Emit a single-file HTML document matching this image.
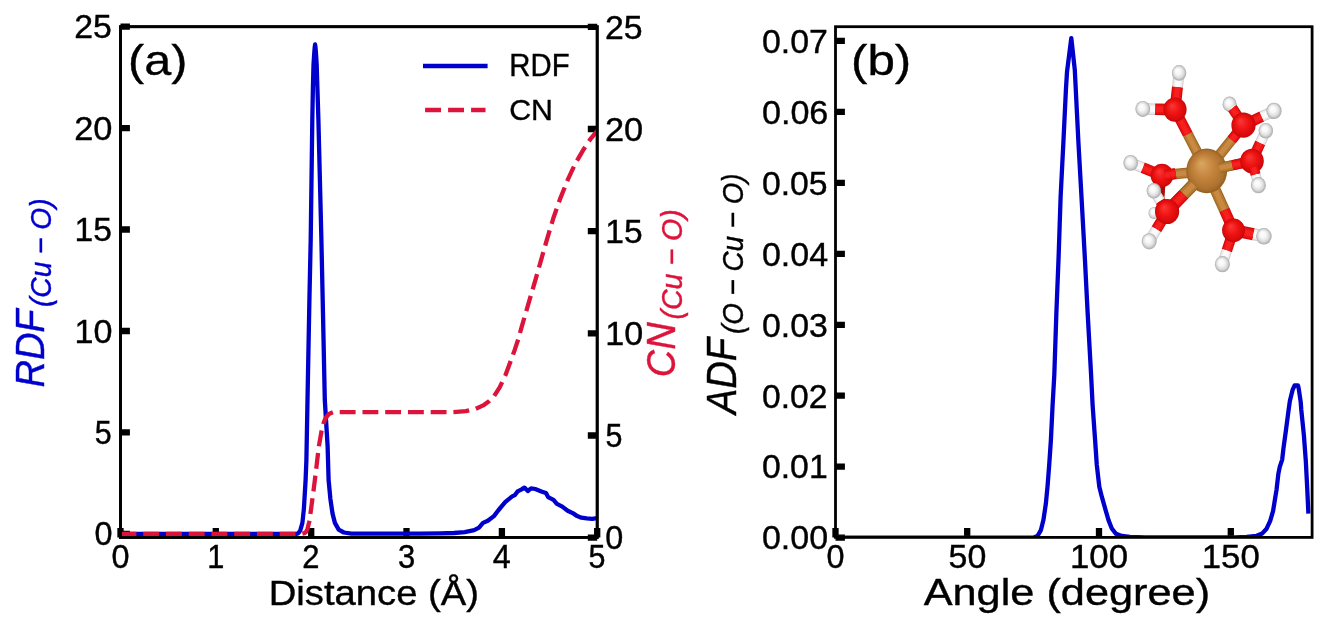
<!DOCTYPE html>
<html><head><meta charset="utf-8"><title>RDF / CN and ADF of Cu-O</title>
<style>html,body{margin:0;padding:0;background:#fff}svg{display:block;will-change:transform}text{font-family:"Liberation Sans",sans-serif}</style></head>
<body>
<svg width="1328" height="629" viewBox="0 0 1328 629">
<rect x="0" y="0" width="1328" height="629" fill="#fff"/>
<defs><clipPath id="ca"><rect x="120.5" y="26.7" width="476.70000000000005" height="510.7"/></clipPath><clipPath id="cb"><rect x="835.5" y="26.7" width="476.5999999999999" height="510.7"/></clipPath></defs>
<path d="M120.5,533.8h9.4 M120.5,432.4h9.4 M120.5,331.0h9.4 M120.5,229.5h9.4 M120.5,128.1h9.4 M120.5,26.7h9.4 M120.5,537.4v-9.4 M215.8,537.4v-9.4 M311.2,537.4v-9.4 M406.5,537.4v-9.4 M501.9,537.4v-9.4 M597.2,537.4v-9.4" stroke="#000" stroke-width="6.3" fill="none"/>
<g clip-path="url(#ca)"><path d="M120.5,533.8 L296.0,533.8 L297.6,533.6 L299.2,532.2 L300.5,529.6 L302.4,522.9 L303.9,508.6 L305.6,480.0 L306.4,460.0 L307.5,400.0 L309.4,300.0 L310.7,240.0 L312.3,120.0 L312.9,88.0 L313.5,65.0 L314.2,54.0 L314.7,47.5 L315.1,44.5 L315.5,47.5 L316.0,54.0 L316.7,65.0 L317.4,88.0 L318.4,120.0 L321.4,240.0 L322.7,300.0 L324.8,400.0 L327.6,446.0 L328.6,480.0 L330.4,499.0 L332.5,513.4 L334.9,522.9 L338.7,529.6 L343.9,532.5 L351.5,533.7 L420.0,533.6 L440.3,533.3 L453.9,533.0 L464.7,532.1 L474.2,530.1 L479.0,527.6 L483.0,522.9 L487.8,520.8 L493.9,516.1 L498.6,510.0 L505.4,501.9 L512.2,496.4 L514.9,495.1 L517.6,491.4 L521.7,489.4 L524.4,487.6 L527.8,491.0 L531.1,488.3 L535.2,489.0 L542.0,491.7 L546.0,493.0 L548.1,497.1 L553.5,499.8 L556.9,503.9 L562.3,506.6 L567.7,510.7 L573.2,513.4 L577.2,516.1 L581.3,517.7 L586.7,518.4 L592.1,518.8 L597.2,518.1" stroke="#0000cd" stroke-width="4.3" fill="none" stroke-linejoin="round"/></g>
<rect x="120.5" y="26.7" width="476.70000000000005" height="510.7" fill="none" stroke="#000" stroke-width="2.8"/>
<path d="M597.2,537.6h-9.4 M597.2,435.5h-9.4 M597.2,333.3h-9.4 M597.2,231.2h-9.4 M597.2,129.0h-9.4 M597.2,26.9h-9.4" stroke="#000" stroke-width="6.3" fill="none"/>
<g clip-path="url(#ca)"><path d="M120.5,533.8 L301.9,533.8 L304.3,533.2 L306.1,531.8 L307.5,528.8 L308.5,524.7 L309.6,520.5 L310.5,513.3 L312.4,499.0 L313.5,490.7 L315.4,475.7 L316.3,468.3 L318.0,453.5 L318.9,446.2 L321.6,430.6 L323.3,423.9 L325.5,418.4 L328.9,413.9 L333.3,412.2 L340.0,412.1 L452.5,412.1 L465.8,411.2 L475.7,408.8 L483.2,405.4 L489.0,401.3 L494.0,396.3 L499.8,387.2 L505.6,374.8 L510.5,361.5 L514.7,349.9 L518.0,340.0 L521.9,326.1 L528.6,303.2 L535.3,280.3 L541.0,260.3 L546.7,240.3 L553.4,218.0 L560.1,198.9 L567.7,179.9 L575.3,163.6 L583.0,150.3 L590.6,138.8 L597.2,130.8" stroke="#dc143c" stroke-width="4.3" fill="none" stroke-linejoin="round" stroke-dasharray="15.87 6.87"/></g>
<rect x="120.5" y="26.7" width="476.70000000000005" height="510.7" fill="none" stroke="#000" stroke-width="2.8"/>
<path d="M423,66H487.6" stroke="#0000cd" stroke-width="4.7" fill="none"/>
<path d="M425.1,110H485.5" stroke="#dc143c" stroke-width="4.7" fill="none" stroke-dasharray="15.9 7.1"/>
<path d="M835.5,537.6h9.4 M835.5,466.7h9.4 M835.5,395.7h9.4 M835.5,324.8h9.4 M835.5,253.8h9.4 M835.5,182.9h9.4 M835.5,111.9h9.4 M835.5,40.9h9.4 M835.5,537.4v-9.4 M967.2,537.4v-9.4 M1099.0,537.4v-9.4 M1230.8,537.4v-9.4" stroke="#000" stroke-width="6.3" fill="none"/>
<g clip-path="url(#cb)"><path d="M835.5,537.6 L1032.0,537.6 L1034.2,537.3 L1037.5,536.0 L1040.9,530.1 L1043.4,520.1 L1045.9,503.4 L1047.5,486.7 L1049.2,465.0 L1050.9,440.0 L1052.6,405.0 L1054.3,375.0 L1056.4,312.2 L1058.6,257.0 L1060.6,197.2 L1063.4,142.0 L1065.9,90.0 L1067.0,72.0 L1071.3,38.1 L1074.8,70.0 L1075.8,90.0 L1078.4,142.0 L1081.5,197.2 L1084.8,257.0 L1087.6,312.2 L1091.1,375.0 L1092.6,405.0 L1095.1,440.0 L1096.8,465.0 L1099.3,486.7 L1101.8,496.7 L1105.1,508.4 L1108.5,520.1 L1111.8,528.5 L1116.0,533.8 L1121.8,536.0 L1130.0,536.9 L1145.0,537.5 L1235.0,537.5 L1246.6,536.8 L1256.6,535.8 L1262.3,533.4 L1266.6,528.7 L1270.2,520.8 L1273.1,510.8 L1275.2,497.9 L1276.5,490.0 L1278.4,473.6 L1279.7,467.2 L1282.2,459.6 L1283.5,448.1 L1286.1,429.1 L1288.6,410.0 L1289.9,400.7 L1292.6,389.9 L1294.6,385.5 L1298.0,385.5 L1298.7,388.5 L1300.7,402.0 L1301.3,410.0 L1303.9,435.4 L1305.8,460.8 L1307.3,490.0 L1308.4,513.7" stroke="#0000cd" stroke-width="4.3" fill="none" stroke-linejoin="round"/></g>
<rect x="835.5" y="26.7" width="476.5999999999999" height="510.7" fill="none" stroke="#000" stroke-width="2.8"/>
<defs><radialGradient id="gO" cx="0.5" cy="0.5" r="0.5" fx="0.36" fy="0.32"><stop offset="0" stop-color="#fb3838"/><stop offset="0.55" stop-color="#ee1212"/><stop offset="0.88" stop-color="#d80a0a"/><stop offset="1" stop-color="#c00606"/></radialGradient><radialGradient id="gH" cx="0.5" cy="0.5" r="0.5" fx="0.38" fy="0.34"><stop offset="0" stop-color="#ffffff"/><stop offset="0.4" stop-color="#f6f6f6"/><stop offset="0.72" stop-color="#dcdcdc"/><stop offset="0.92" stop-color="#b8b8b8"/><stop offset="1" stop-color="#a4a4a4"/></radialGradient><radialGradient id="gC" cx="0.5" cy="0.5" r="0.5" fx="0.36" fy="0.32"><stop offset="0" stop-color="#dba664"/><stop offset="0.5" stop-color="#c4843c"/><stop offset="0.85" stop-color="#ae7230"/><stop offset="1" stop-color="#94601f"/></radialGradient></defs>
<g fill="none">
<ellipse cx="1154.0" cy="213.0" rx="5.5" ry="6.1" fill="url(#gH)"/>
<ellipse cx="1229.6" cy="104.2" rx="7" ry="7.6" fill="url(#gH)"/>
<path d="M1243.5,125.2L1232.2,107.9" stroke="#cf0a0a" stroke-width="10.5"/><path d="M1243.5,125.2L1232.2,107.9" stroke="#ee1212" stroke-width="8.4"/><path d="M1243.5,125.2L1232.2,107.9" stroke="#f62020" stroke-width="4.7"/>
<path d="M1232.2,107.9L1231.8,107.4" stroke="#cfcfcf" stroke-width="10.5"/><path d="M1232.2,107.9L1231.8,107.4" stroke="#efefef" stroke-width="8.4"/><path d="M1232.2,107.9L1231.8,107.4" stroke="#fbfbfb" stroke-width="4.7"/>
<path d="M1206.7,170.9L1187.7,134.1" stroke="#9a6622" stroke-width="10.6"/><path d="M1206.7,170.9L1187.7,134.1" stroke="#b87a32" stroke-width="8.5"/><path d="M1206.7,170.9L1187.7,134.1" stroke="#c88a42" stroke-width="4.8"/>
<path d="M1187.7,134.1L1175.0,109.6" stroke="#cf0a0a" stroke-width="10.6"/><path d="M1187.7,134.1L1175.0,109.6" stroke="#ee1212" stroke-width="8.5"/><path d="M1187.7,134.1L1175.0,109.6" stroke="#f62020" stroke-width="4.8"/>
<path d="M1206.7,170.9L1231.7,139.8" stroke="#9a6622" stroke-width="10.6"/><path d="M1206.7,170.9L1231.7,139.8" stroke="#b87a32" stroke-width="8.5"/><path d="M1206.7,170.9L1231.7,139.8" stroke="#c88a42" stroke-width="4.8"/>
<path d="M1231.7,139.8L1243.5,125.2" stroke="#cf0a0a" stroke-width="10.6"/><path d="M1231.7,139.8L1243.5,125.2" stroke="#ee1212" stroke-width="8.5"/><path d="M1231.7,139.8L1243.5,125.2" stroke="#f62020" stroke-width="4.8"/>
<path d="M1206.7,170.9L1232.5,165.3" stroke="#9a6622" stroke-width="10.2"/><path d="M1206.7,170.9L1232.5,165.3" stroke="#b87a32" stroke-width="8.2"/><path d="M1206.7,170.9L1232.5,165.3" stroke="#c88a42" stroke-width="4.6"/>
<path d="M1232.5,165.3L1252.0,161.0" stroke="#cf0a0a" stroke-width="10.2"/><path d="M1232.5,165.3L1252.0,161.0" stroke="#ee1212" stroke-width="8.2"/><path d="M1232.5,165.3L1252.0,161.0" stroke="#f62020" stroke-width="4.6"/>
<path d="M1206.7,170.9L1175.4,174.1" stroke="#9a6622" stroke-width="10.6"/><path d="M1206.7,170.9L1175.4,174.1" stroke="#b87a32" stroke-width="8.5"/><path d="M1206.7,170.9L1175.4,174.1" stroke="#c88a42" stroke-width="4.8"/>
<path d="M1175.4,174.1L1162.0,175.5" stroke="#cf0a0a" stroke-width="10.6"/><path d="M1175.4,174.1L1162.0,175.5" stroke="#ee1212" stroke-width="8.5"/><path d="M1175.4,174.1L1162.0,175.5" stroke="#f62020" stroke-width="4.8"/>
<path d="M1206.7,170.9L1183.7,194.4" stroke="#9a6622" stroke-width="12"/><path d="M1206.7,170.9L1183.7,194.4" stroke="#b87a32" stroke-width="9.6"/><path d="M1206.7,170.9L1183.7,194.4" stroke="#c88a42" stroke-width="5.4"/>
<path d="M1183.7,194.4L1167.1,211.5" stroke="#cf0a0a" stroke-width="12"/><path d="M1183.7,194.4L1167.1,211.5" stroke="#ee1212" stroke-width="9.6"/><path d="M1183.7,194.4L1167.1,211.5" stroke="#f62020" stroke-width="5.4"/>
<path d="M1206.7,170.9L1224.4,210.1" stroke="#9a6622" stroke-width="11"/><path d="M1206.7,170.9L1224.4,210.1" stroke="#b87a32" stroke-width="8.8"/><path d="M1206.7,170.9L1224.4,210.1" stroke="#c88a42" stroke-width="5.0"/>
<path d="M1224.4,210.1L1233.5,230.3" stroke="#cf0a0a" stroke-width="11"/><path d="M1224.4,210.1L1233.5,230.3" stroke="#ee1212" stroke-width="8.8"/><path d="M1224.4,210.1L1233.5,230.3" stroke="#f62020" stroke-width="5.0"/>
<ellipse cx="1206.7" cy="170.9" rx="20.4" ry="22.3" fill="url(#gC)"/>
<path d="M1219.4,168.1L1232.4,165.3" stroke="#9a6622" stroke-width="10.2"/><path d="M1219.4,168.1L1232.4,165.3" stroke="#b87a32" stroke-width="8.2"/><path d="M1219.4,168.1L1232.4,165.3" stroke="#c88a42" stroke-width="4.6"/>
<path d="M1232.4,165.3L1252.0,161.0" stroke="#cf0a0a" stroke-width="10.2"/><path d="M1232.4,165.3L1252.0,161.0" stroke="#ee1212" stroke-width="8.2"/><path d="M1232.4,165.3L1252.0,161.0" stroke="#f62020" stroke-width="4.6"/>
<path d="M1193.6,184.3L1183.8,194.4" stroke="#9a6622" stroke-width="12"/><path d="M1193.6,184.3L1183.8,194.4" stroke="#b87a32" stroke-width="9.6"/><path d="M1193.6,184.3L1183.8,194.4" stroke="#c88a42" stroke-width="5.4"/>
<path d="M1183.8,194.4L1167.1,211.5" stroke="#cf0a0a" stroke-width="12"/><path d="M1183.8,194.4L1167.1,211.5" stroke="#ee1212" stroke-width="9.6"/><path d="M1183.8,194.4L1167.1,211.5" stroke="#f62020" stroke-width="5.4"/>
<path d="M1175.0,109.6L1177.5,86.8" stroke="#cf0a0a" stroke-width="11"/><path d="M1175.0,109.6L1177.5,86.8" stroke="#ee1212" stroke-width="8.8"/><path d="M1175.0,109.6L1177.5,86.8" stroke="#f62020" stroke-width="5.0"/>
<path d="M1177.5,86.8L1179.1,72.9" stroke="#cfcfcf" stroke-width="11"/><path d="M1177.5,86.8L1179.1,72.9" stroke="#efefef" stroke-width="8.8"/><path d="M1177.5,86.8L1179.1,72.9" stroke="#fbfbfb" stroke-width="5.0"/>
<path d="M1175.0,109.6L1155.0,109.2" stroke="#cf0a0a" stroke-width="11.6"/><path d="M1175.0,109.6L1155.0,109.2" stroke="#ee1212" stroke-width="9.3"/><path d="M1175.0,109.6L1155.0,109.2" stroke="#f62020" stroke-width="5.2"/>
<path d="M1155.0,109.2L1142.8,108.9" stroke="#cfcfcf" stroke-width="11.6"/><path d="M1155.0,109.2L1142.8,108.9" stroke="#efefef" stroke-width="9.3"/><path d="M1155.0,109.2L1142.8,108.9" stroke="#fbfbfb" stroke-width="5.2"/>
<path d="M1243.5,125.2L1261.8,116.6" stroke="#cf0a0a" stroke-width="11"/><path d="M1243.5,125.2L1261.8,116.6" stroke="#ee1212" stroke-width="8.8"/><path d="M1243.5,125.2L1261.8,116.6" stroke="#f62020" stroke-width="5.0"/>
<path d="M1261.8,116.6L1274.0,110.9" stroke="#cfcfcf" stroke-width="11"/><path d="M1261.8,116.6L1274.0,110.9" stroke="#efefef" stroke-width="8.8"/><path d="M1261.8,116.6L1274.0,110.9" stroke="#fbfbfb" stroke-width="5.0"/>
<path d="M1252.0,161.0L1260.3,142.8" stroke="#cf0a0a" stroke-width="10.8"/><path d="M1252.0,161.0L1260.3,142.8" stroke="#ee1212" stroke-width="8.6"/><path d="M1252.0,161.0L1260.3,142.8" stroke="#f62020" stroke-width="4.9"/>
<path d="M1260.3,142.8L1265.8,130.7" stroke="#cfcfcf" stroke-width="10.8"/><path d="M1260.3,142.8L1265.8,130.7" stroke="#efefef" stroke-width="8.6"/><path d="M1260.3,142.8L1265.8,130.7" stroke="#fbfbfb" stroke-width="4.9"/>
<path d="M1162.0,175.5L1142.6,167.7" stroke="#cf0a0a" stroke-width="11"/><path d="M1162.0,175.5L1142.6,167.7" stroke="#ee1212" stroke-width="8.8"/><path d="M1162.0,175.5L1142.6,167.7" stroke="#f62020" stroke-width="5.0"/>
<path d="M1142.6,167.7L1130.7,162.9" stroke="#cfcfcf" stroke-width="11"/><path d="M1142.6,167.7L1130.7,162.9" stroke="#efefef" stroke-width="8.8"/><path d="M1142.6,167.7L1130.7,162.9" stroke="#fbfbfb" stroke-width="5.0"/>
<path d="M1167.1,211.5L1156.4,229.4" stroke="#cf0a0a" stroke-width="11"/><path d="M1167.1,211.5L1156.4,229.4" stroke="#ee1212" stroke-width="8.8"/><path d="M1167.1,211.5L1156.4,229.4" stroke="#f62020" stroke-width="5.0"/>
<path d="M1156.4,229.4L1149.2,241.3" stroke="#cfcfcf" stroke-width="11"/><path d="M1156.4,229.4L1149.2,241.3" stroke="#efefef" stroke-width="8.8"/><path d="M1156.4,229.4L1149.2,241.3" stroke="#fbfbfb" stroke-width="5.0"/>
<path d="M1233.5,230.3L1253.6,234.3" stroke="#cf0a0a" stroke-width="12.2"/><path d="M1233.5,230.3L1253.6,234.3" stroke="#ee1212" stroke-width="9.8"/><path d="M1233.5,230.3L1253.6,234.3" stroke="#f62020" stroke-width="5.5"/>
<path d="M1253.6,234.3L1263.9,236.3" stroke="#cfcfcf" stroke-width="12.2"/><path d="M1253.6,234.3L1263.9,236.3" stroke="#efefef" stroke-width="9.8"/><path d="M1253.6,234.3L1263.9,236.3" stroke="#fbfbfb" stroke-width="5.5"/>
<path d="M1233.5,230.3L1226.8,250.6" stroke="#cf0a0a" stroke-width="10.6"/><path d="M1233.5,230.3L1226.8,250.6" stroke="#ee1212" stroke-width="8.5"/><path d="M1233.5,230.3L1226.8,250.6" stroke="#f62020" stroke-width="4.8"/>
<path d="M1226.8,250.6L1222.4,264.2" stroke="#cfcfcf" stroke-width="10.6"/><path d="M1226.8,250.6L1222.4,264.2" stroke="#efefef" stroke-width="8.5"/><path d="M1226.8,250.6L1222.4,264.2" stroke="#fbfbfb" stroke-width="4.8"/>
<path d="M1162.5,183L1161,204" stroke="#a80c0c" stroke-width="6"/>
<ellipse cx="1175.0" cy="109.6" rx="11.6" ry="12.1" fill="url(#gO)"/>
<ellipse cx="1243.5" cy="125.2" rx="12.1" ry="12.6" fill="url(#gO)"/>
<ellipse cx="1162.0" cy="175.5" rx="11.3" ry="11.8" fill="url(#gO)"/>
<ellipse cx="1233.5" cy="230.3" rx="11.4" ry="11.9" fill="url(#gO)"/>
<path d="M1165.0,175.3L1170.3,174.4" stroke="#cf0a0a" stroke-width="10.8"/><path d="M1165.0,175.3L1170.3,174.4" stroke="#ee1212" stroke-width="8.6"/><path d="M1165.0,175.3L1170.3,174.4" stroke="#f62020" stroke-width="4.9"/>
<path d="M1170.3,174.4L1175.6,173.4" stroke="#cf0a0a" stroke-width="10.8"/><path d="M1170.3,174.4L1175.6,173.4" stroke="#ee1212" stroke-width="8.6"/><path d="M1170.3,174.4L1175.6,173.4" stroke="#f62020" stroke-width="4.9"/>
<path d="M1153.8,190.8L1160.4,201.2" stroke="#cfcfcf" stroke-width="10.5"/><path d="M1153.8,190.8L1160.4,201.2" stroke="#efefef" stroke-width="8.4"/><path d="M1153.8,190.8L1160.4,201.2" stroke="#fbfbfb" stroke-width="4.7"/>
<path d="M1160.4,201.2L1167.1,211.5" stroke="#cf0a0a" stroke-width="10.5"/><path d="M1160.4,201.2L1167.1,211.5" stroke="#ee1212" stroke-width="8.4"/><path d="M1160.4,201.2L1167.1,211.5" stroke="#f62020" stroke-width="4.7"/>
<ellipse cx="1167.1" cy="211.5" rx="12.1" ry="12.6" fill="url(#gO)"/>
<ellipse cx="1252.0" cy="161.0" rx="11.8" ry="12.3" fill="url(#gO)"/>
<ellipse cx="1179.1" cy="72.9" rx="7.2" ry="7.8" fill="url(#gH)"/>
<ellipse cx="1142.8" cy="108.9" rx="7.4" ry="8.0" fill="url(#gH)"/>
<ellipse cx="1274.0" cy="110.9" rx="7.6" ry="8.2" fill="url(#gH)"/>
<ellipse cx="1130.7" cy="162.9" rx="7.3" ry="7.9" fill="url(#gH)"/>
<ellipse cx="1149.2" cy="241.3" rx="7.5" ry="8.1" fill="url(#gH)"/>
<ellipse cx="1263.9" cy="236.3" rx="7.7" ry="8.3" fill="url(#gH)"/>
<ellipse cx="1222.4" cy="264.2" rx="7.5" ry="8.1" fill="url(#gH)"/>
<path d="M1253.6,167.1L1255.6,174.7" stroke="#cf0a0a" stroke-width="10"/><path d="M1253.6,167.1L1255.6,174.7" stroke="#ee1212" stroke-width="8.0"/><path d="M1253.6,167.1L1255.6,174.7" stroke="#f62020" stroke-width="4.5"/>
<path d="M1255.6,174.7L1258.4,185.2" stroke="#cfcfcf" stroke-width="10"/><path d="M1255.6,174.7L1258.4,185.2" stroke="#efefef" stroke-width="8.0"/><path d="M1255.6,174.7L1258.4,185.2" stroke="#fbfbfb" stroke-width="4.5"/>
<ellipse cx="1258.4" cy="185.2" rx="7.5" ry="8.1" fill="url(#gH)"/>
<ellipse cx="1265.8" cy="130.7" rx="7.2" ry="7.8" fill="url(#gH)"/>
<ellipse cx="1153.8" cy="190.8" rx="7.2" ry="7.8" fill="url(#gH)"/>
</g>
<text transform="matrix(0.3236,0,0,0.3304,94.40,545.41)" font-size="100" fill="#000" stroke="#000" stroke-width="1.22" xml:space="preserve">0</text>
<text transform="matrix(0.3236,0,0,0.3304,605.18,549.41)" font-size="100" fill="#000" stroke="#000" stroke-width="1.22" xml:space="preserve">0</text>
<text transform="matrix(0.3045,0,0,0.3276,94.83,444.00)" font-size="100" fill="#000" stroke="#000" stroke-width="1.27" xml:space="preserve">5</text>
<text transform="matrix(0.3045,0,0,0.3276,605.60,447.27)" font-size="100" fill="#000" stroke="#000" stroke-width="1.27" xml:space="preserve">5</text>
<text transform="matrix(0.3413,0,0,0.3304,74.48,342.57)" font-size="100" fill="#000" stroke="#000" stroke-width="1.19" xml:space="preserve">10</text>
<text transform="matrix(0.3413,0,0,0.3304,605.23,345.11)" font-size="100" fill="#000" stroke="#000" stroke-width="1.19" xml:space="preserve">10</text>
<text transform="matrix(0.3359,0,0,0.3276,74.52,241.16)" font-size="100" fill="#000" stroke="#000" stroke-width="1.21" xml:space="preserve">15</text>
<text transform="matrix(0.3359,0,0,0.3276,605.27,242.97)" font-size="100" fill="#000" stroke="#000" stroke-width="1.21" xml:space="preserve">15</text>
<text transform="matrix(0.3437,0,0,0.3304,74.23,139.73)" font-size="100" fill="#000" stroke="#000" stroke-width="1.19" xml:space="preserve">20</text>
<text transform="matrix(0.3437,0,0,0.3304,604.98,140.81)" font-size="100" fill="#000" stroke="#000" stroke-width="1.19" xml:space="preserve">20</text>
<text transform="matrix(0.3383,0,0,0.3304,74.25,38.31)" font-size="100" fill="#000" stroke="#000" stroke-width="1.20" xml:space="preserve">25</text>
<text transform="matrix(0.3383,0,0,0.3304,605.01,38.66)" font-size="100" fill="#000" stroke="#000" stroke-width="1.20" xml:space="preserve">25</text>
<text transform="matrix(0.3236,0,0,0.3304,111.49,567.91)" font-size="100" fill="#000" stroke="#000" stroke-width="1.22" xml:space="preserve">0</text>
<text transform="matrix(0.3077,0,0,0.3260,207.14,567.80)" font-size="100" fill="#000" stroke="#000" stroke-width="1.26" xml:space="preserve">1</text>
<text transform="matrix(0.3095,0,0,0.3288,302.14,567.80)" font-size="100" fill="#000" stroke="#000" stroke-width="1.25" xml:space="preserve">2</text>
<text transform="matrix(0.3100,0,0,0.3304,397.88,567.91)" font-size="100" fill="#000" stroke="#000" stroke-width="1.25" xml:space="preserve">3</text>
<text transform="matrix(0.3235,0,0,0.3260,492.85,567.80)" font-size="100" fill="#000" stroke="#000" stroke-width="1.23" xml:space="preserve">4</text>
<text transform="matrix(0.3045,0,0,0.3276,588.62,567.92)" font-size="100" fill="#000" stroke="#000" stroke-width="1.27" xml:space="preserve">5</text>
<text transform="matrix(0.3403,0,0,0.3304,761.94,549.41)" font-size="100" fill="#000" stroke="#000" stroke-width="1.19" xml:space="preserve">0.00</text>
<text transform="matrix(0.3379,0,0,0.3304,761.95,478.46)" font-size="100" fill="#000" stroke="#000" stroke-width="1.20" xml:space="preserve">0.01</text>
<text transform="matrix(0.3366,0,0,0.3304,761.95,407.51)" font-size="100" fill="#000" stroke="#000" stroke-width="1.20" xml:space="preserve">0.02</text>
<text transform="matrix(0.3386,0,0,0.3304,761.95,336.56)" font-size="100" fill="#000" stroke="#000" stroke-width="1.20" xml:space="preserve">0.03</text>
<text transform="matrix(0.3401,0,0,0.3304,761.94,265.61)" font-size="100" fill="#000" stroke="#000" stroke-width="1.19" xml:space="preserve">0.04</text>
<text transform="matrix(0.3374,0,0,0.3304,761.95,194.66)" font-size="100" fill="#000" stroke="#000" stroke-width="1.20" xml:space="preserve">0.05</text>
<text transform="matrix(0.3414,0,0,0.3304,761.93,123.71)" font-size="100" fill="#000" stroke="#000" stroke-width="1.19" xml:space="preserve">0.06</text>
<text transform="matrix(0.3390,0,0,0.3304,761.94,52.76)" font-size="100" fill="#000" stroke="#000" stroke-width="1.20" xml:space="preserve">0.07</text>
<text transform="matrix(0.3236,0,0,0.3304,826.49,567.91)" font-size="100" fill="#000" stroke="#000" stroke-width="1.22" xml:space="preserve">0</text>
<text transform="matrix(0.3392,0,0,0.3304,948.54,567.91)" font-size="100" fill="#000" stroke="#000" stroke-width="1.19" xml:space="preserve">50</text>
<text transform="matrix(0.3476,0,0,0.3304,1070.02,567.91)" font-size="100" fill="#000" stroke="#000" stroke-width="1.18" xml:space="preserve">100</text>
<text transform="matrix(0.3476,0,0,0.3304,1201.77,567.91)" font-size="100" fill="#000" stroke="#000" stroke-width="1.18" xml:space="preserve">150</text>
<text transform="matrix(0.3823,0,0,0.3474,268.71,605.10)" font-size="100" fill="#000" stroke="#000" stroke-width="1.10" xml:space="preserve">Distance (Å)</text>
<text transform="matrix(0.4331,0,0,0.3750,923.66,605.10)" font-size="100" fill="#000" stroke="#000" stroke-width="0.99" xml:space="preserve">Angle (degree)</text>
<text transform="matrix(0.4851,0,0,0.4260,128.03,75.20)" font-size="100" fill="#000" stroke="#000" stroke-width="0.88" xml:space="preserve">(a)</text>
<text transform="matrix(0.4933,0,0,0.4260,850.98,75.20)" font-size="100" fill="#000" stroke="#000" stroke-width="0.87" xml:space="preserve">(b)</text>
<text transform="matrix(0.2928,0,0,0.3116,509.36,76.30)" font-size="100" fill="#000" stroke="#000" stroke-width="1.32" xml:space="preserve">RDF</text>
<text transform="matrix(0.3030,0,0,0.2986,509.18,119.80)" font-size="100" fill="#000" stroke="#000" stroke-width="1.33" xml:space="preserve">CN</text>
<text transform="matrix(0,-0.3802,0.4123,0,43.55,387.54)" font-size="100" font-style="italic" fill="#0000cd" stroke="#0000cd" stroke-width="1.01" xml:space="preserve">RDF</text>
<text transform="matrix(0,-0.2811,0.3038,0,50.80,307.01)" font-size="100" font-style="italic" fill="#0000cd" stroke="#0000cd" stroke-width="1.37" xml:space="preserve">(Cu − O)</text>
<text transform="matrix(0,-0.3793,0.4047,0,675.00,377.15)" font-size="100" font-style="italic" fill="#dc143c" stroke="#dc143c" stroke-width="1.02" xml:space="preserve">CN</text>
<text transform="matrix(0,-0.2859,0.3038,0,682.20,319.53)" font-size="100" font-style="italic" fill="#dc143c" stroke="#dc143c" stroke-width="1.36" xml:space="preserve">(Cu − O)</text>
<text transform="matrix(0,-0.3807,0.4174,0,735.70,414.02)" font-size="100" font-style="italic" fill="#000" stroke="#000" stroke-width="1.00" xml:space="preserve">ADF</text>
<text transform="matrix(0,-0.2780,0.3038,0,743.00,334.10)" font-size="100" font-style="italic" fill="#000" stroke="#000" stroke-width="1.38" xml:space="preserve">(O − Cu − O)</text>
</svg>
</body></html>
